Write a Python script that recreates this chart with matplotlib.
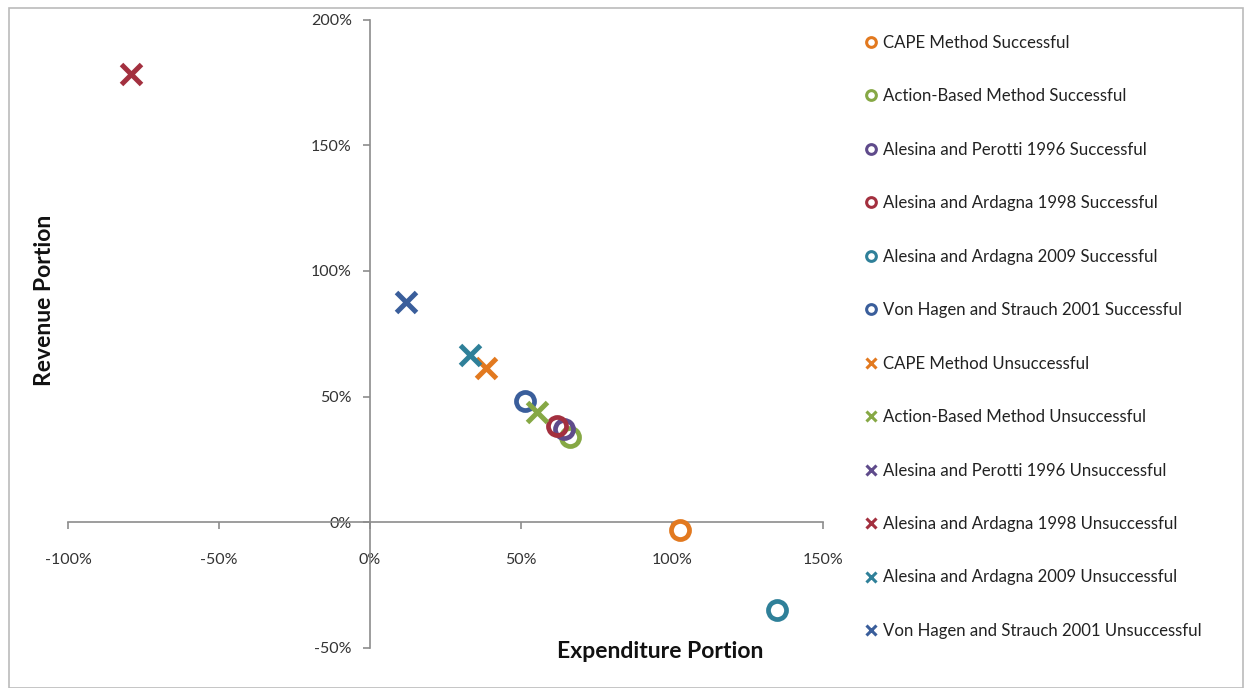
import matplotlib
matplotlib.use("Agg")
import matplotlib.pyplot as plt
from matplotlib.lines import Line2D
from matplotlib.patches import Rectangle
from matplotlib.ticker import FuncFormatter

plt.rcParams['font.family'] = ['Lato', 'DejaVu Sans']

nan = float('nan')
methods = ["CAPE Method", "Action-Based Method", "Alesina and Perotti 1996",
           "Alesina and Ardagna 1998", "Alesina and Ardagna 2009",
           "Von Hagen and Strauch 2001"]
colors = ["#E2791F", "#86A845", "#5F4B8B", "#A3303F", "#2F8099", "#3A5E9B"]

# Successful consolidations (expenditure share %, revenue share %)
succ_exp = [102.7, 66.4, 64.4, 62.1, 134.9, 51.5]
succ_rev = [-3.2, 33.9, 37.1, 38.2, -35.1, 48.2]
# Unsuccessful consolidations (Alesina and Perotti 1996 not visible in chart)
unsucc_exp = [38.6, 55.5, nan, -79.0, 33.3, 12.1]
unsucc_rev = [61.2, 43.8, nan, 178.5, 66.5, 87.6]

x_ticks = [-100, -50, 0, 50, 100, 150]
y_ticks = [-50, 0, 50, 100, 150, 200]

W, H = 1250, 688
fig = plt.figure(figsize=(W / 100, H / 100), dpi=100)
left, right, top, bottom = 68, 822.7, 20, 647.5
ax = fig.add_axes([left / W, 1 - bottom / H, (right - left) / W, (bottom - top) / H])

handles = []
labels = []
for m, c, x, y in zip(methods, colors, succ_exp, succ_rev):
    ax.plot([x], [y], linestyle='none', marker='o', markersize=13,
            markerfacecolor='none', markeredgecolor=c, markeredgewidth=3.4,
            zorder=3)
    handles.append(Line2D([], [], linestyle='none', marker='o', markersize=7,
                          markerfacecolor='none', markeredgecolor=c, markeredgewidth=2.2))
    labels.append(m + " Successful")
for m, c, x, y in zip(methods, colors, unsucc_exp, unsucc_rev):
    ax.plot([x], [y], linestyle='none', marker='x', markersize=14,
            markeredgecolor=c, markeredgewidth=3.6, zorder=3)
    handles.append(Line2D([], [], linestyle='none', marker='x', markersize=7,
                          markeredgecolor=c, markeredgewidth=2.2))
    labels.append(m + " Unsuccessful")

ax.set_xlim(-100, 150)
ax.set_ylim(-50, 200)
ax.set_xticks(x_ticks)
ax.set_yticks(y_ticks)
fmt = FuncFormatter(lambda v, p: f"{int(round(v))}%")
ax.xaxis.set_major_formatter(fmt)
ax.yaxis.set_major_formatter(fmt)

for s in ['top', 'right']:
    ax.spines[s].set_visible(False)
ax.spines['left'].set_position(('data', 0))
ax.spines['bottom'].set_position(('data', 0))
for s in ['left', 'bottom']:
    ax.spines[s].set_color('#8C8C8C')
    ax.spines[s].set_linewidth(1.2)
ax.tick_params(axis='both', direction='out', length=5, width=1.2, color='#8C8C8C',
               labelsize=11.5, labelcolor='#333333')
ax.tick_params(axis='x', pad=17)
ax.tick_params(axis='y', pad=8)
ax.patch.set_alpha(0)

fig.text(45 / W, 1 - 300 / H, "Revenue Portion", rotation=90, ha='center', va='center',
         fontsize=16.5, fontweight='bold', color='#111111')
fig.text(660 / W, 1 - 651 / H, "Expenditure Portion", ha='center', va='center',
         fontsize=16.5, fontweight='bold', color='#111111')

fig.legend(handles, labels, loc='upper left', bbox_to_anchor=(858 / W, 1 - 28 / H),
           frameon=False, fontsize=12.1, labelspacing=2.23, handlelength=0.8,
           handletextpad=0.3, borderaxespad=0, labelcolor='#222222')

fig.patches.append(Rectangle((9 / W, 0), (1243 - 9) / W, 1 - 8 / H, transform=fig.transFigure,
                             fill=False, edgecolor='#BBBBBB', linewidth=1.2))

fig.savefig("out.png", dpi=100)
